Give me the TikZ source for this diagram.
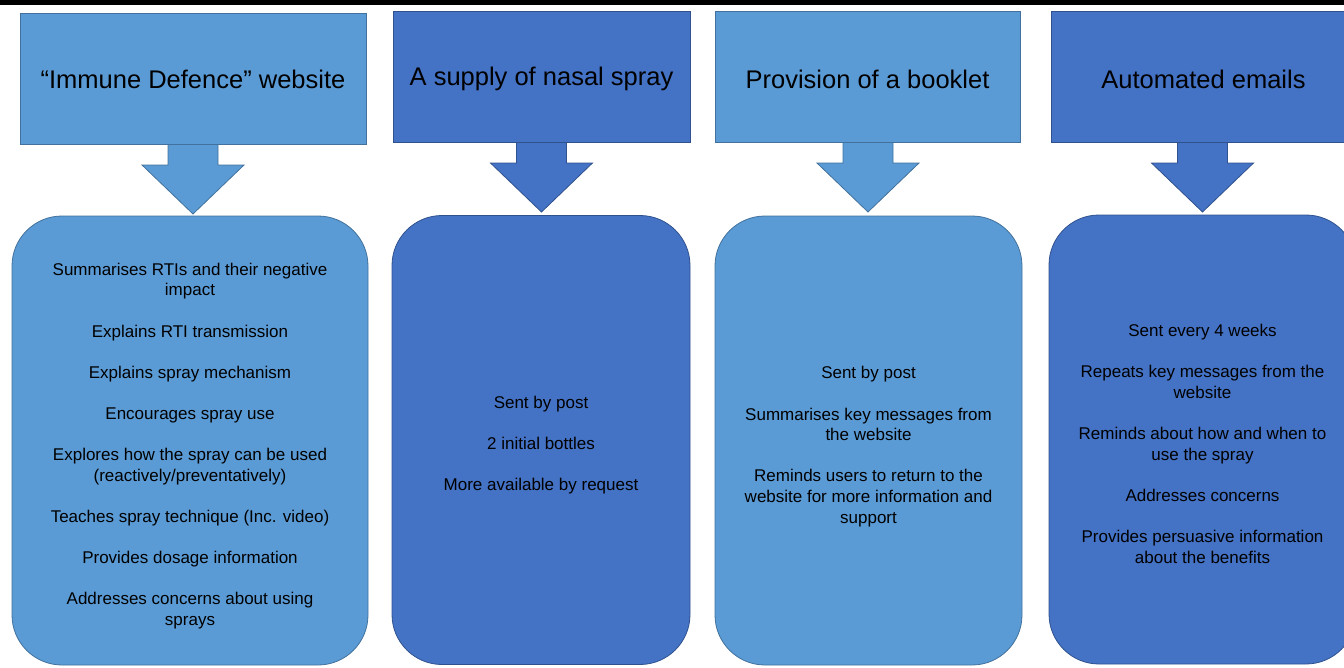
\documentclass[tikz,border=0pt]{standalone}
\usepackage{fontspec}
\setmainfont{Liberation Sans}
\usetikzlibrary{calc}
\definecolor{lightb}{HTML}{5B9BD5}
\definecolor{darkb}{HTML}{4472C4}
\definecolor{lightbd}{HTML}{41719C}
\definecolor{darkbd}{HTML}{2F528F}
\tikzset{
  headbox/.style={draw, line width=0.8pt, minimum height=131pt, inner sep=0pt},
  headtext/.style={inner sep=0pt, text=black, font=\fontsize{25.5}{30}\selectfont},
  bodybox/.style={draw, line width=0.8pt, rounded corners=50pt, inner sep=0pt, minimum height=449pt},
  bodytext/.style={inner sep=0pt, align=center, text=black, font=\fontsize{17}{20.6}\selectfont},
  light/.style={fill=lightb, draw=lightbd},
  dark/.style={fill=darkb, draw=darkbd},
}
\newcommand{\blockarrow}[2]{%
  \draw[#2, line width=0.8pt] ($(#1)+(-25,-2)$) -- ++(0,23) -- ++(-26,0)
    -- ($(#1)+(0,70)$) -- ($(#1)+(51,21)$) -- ++(-26,0) -- ++(0,-23) -- cycle;}
\begin{document}
\begin{tikzpicture}[x=1pt,y=-1pt]
\useasboundingbox (0,0) rectangle (1344,667);
\clip (0,0) rectangle (1344,667);
\fill[black] (0,0) rectangle (1344,5);

% column 1
\coordinate (a1) at (193,144);
\blockarrow{a1}{light}
\node[headbox, light, minimum width=346pt] (h1) at (193,78.5) {};
\node[headtext] (ht1) at ($(h1.center)+(0,1)$) {“Immune Defence” website};
\node[bodybox, light, minimum width=356pt] (b1) at (190,440.5) {};
\node[bodytext] (t1) at ($(b1.center)+(0,5.5)$) {%
Summarises RTIs and their negative\\impact\\[20.6pt]
Explains RTI transmission\\[20.6pt]
Explains spray mechanism\\[20.6pt]
Encourages spray use\\[20.6pt]
Explores how the spray can be used\\(reactively/preventatively)\\[20.6pt]
Teaches spray technique (Inc. video)\\[20.6pt]
Provides dosage information\\[20.6pt]
Addresses concerns about using\\sprays};

% column 2
\coordinate (a2) at (541.5,142);
\blockarrow{a2}{dark}
\node[headbox, dark, minimum width=297pt] (h2) at (541.5,76.5) {};
\node[headtext] (ht2) at ($(h2.center)+(0,2.5)$) {A supply of nasal spray};
\node[bodybox, dark, minimum width=298pt] (b2) at (541,440) {};
\node[bodytext] (t2) at ($(b2.center)+(0,5)$) {%
Sent by post\\[20.6pt]
2 initial bottles\\[20.6pt]
More available by request};

% column 3
\coordinate (a3) at (868,142);
\blockarrow{a3}{light}
\node[headbox, light, minimum width=305pt] (h3) at (867.5,76.5) {};
\node[headtext] (ht3) at ($(h3.center)+(0,2.5)$) {Provision of a booklet};
\node[bodybox, light, minimum width=307pt] (b3) at (868.5,440.5) {};
\node[bodytext] (t3) at ($(b3.center)+(0,6)$) {%
Sent by post\\[20.6pt]
Summarises key messages from\\the website\\[20.6pt]
Reminds users to return to the\\website for more information and\\support};

% column 4
\coordinate (a4) at (1202.5,142);
\blockarrow{a4}{dark}
\node[headbox, dark, minimum width=305pt] (h4) at (1203.5,76.5) {};
\node[headtext] (ht4) at ($(h4.center)+(0,2.5)$) {Automated emails};
\node[bodybox, dark, minimum width=307pt] (b4) at (1202.5,439.5) {};
\node[bodytext] (t4) at ($(b4.center)+(0,4.5)$) {%
Sent every 4 weeks\\[20.6pt]
Repeats key messages from the\\website\\[20.6pt]
Reminds about how and when to\\use the spray\\[20.6pt]
Addresses concerns\\[20.6pt]
Provides persuasive information\\about the benefits};
\end{tikzpicture}
\end{document}
